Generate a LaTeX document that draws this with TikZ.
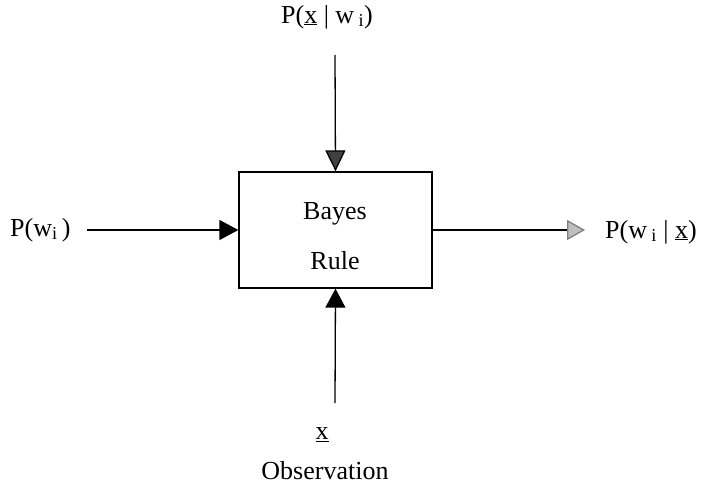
\documentclass[tikz,border=0pt]{standalone}
\usepackage{fontspec}
\setmainfont{Liberation Serif}
\usetikzlibrary{arrows.meta}
\begin{document}
\begin{tikzpicture}[x=1pt,y=-1pt,
  lbl/.style={inner sep=0pt,font=\fontsize{26}{31}\selectfont},
  conn/.style={line width=1.3pt},
  tipblack/.style={-{Triangle[width=20pt,length=19pt,fill=black]}},
  tipdark/.style={-{Triangle[width=20pt,length=21pt,fill=black!75]}},
  tiplight/.style={-{Triangle[width=20pt,length=18pt,fill=black!25,color=black!50]}},
  blk/.style={draw,line width=1.3pt,minimum width=193pt,minimum height=116pt,inner sep=0pt}]
\useasboundingbox (0,0) rectangle (704,487);
\node[blk] (box) at (335.5,230) {};
\node[lbl] (bayes) at (335,214) {Bayes};
\node[lbl] (rule) at (335,261) {Rule};
\node[lbl] (top) at (327,17) {P(\underline{x} | w\,\textsubscript{i})};
\coordinate (topstart) at (335,55);
\node[lbl,anchor=west] (left) at (10,230) {P(w\textsubscript{i}\,)};
\coordinate (leftstart) at (87,230);
\node[lbl,anchor=west] (right) at (605,232) {P(w\,\textsubscript{i} | \underline{x})};
\coordinate (rightend) at (585,230);
\node[lbl] (xobs) at (322,435) {\underline{x}};
\node[lbl] (obs) at (325,471) {Observation};
\coordinate (botstart) at (335,403);
\draw[conn,tipdark] (topstart) -- (box.north);
\draw[conn,tipblack] (leftstart) -- (box.west);
\draw[conn,tiplight] (box.east) -- (rightend);
\draw[conn,tipblack] (botstart) -- (box.south);
\end{tikzpicture}
\end{document}
